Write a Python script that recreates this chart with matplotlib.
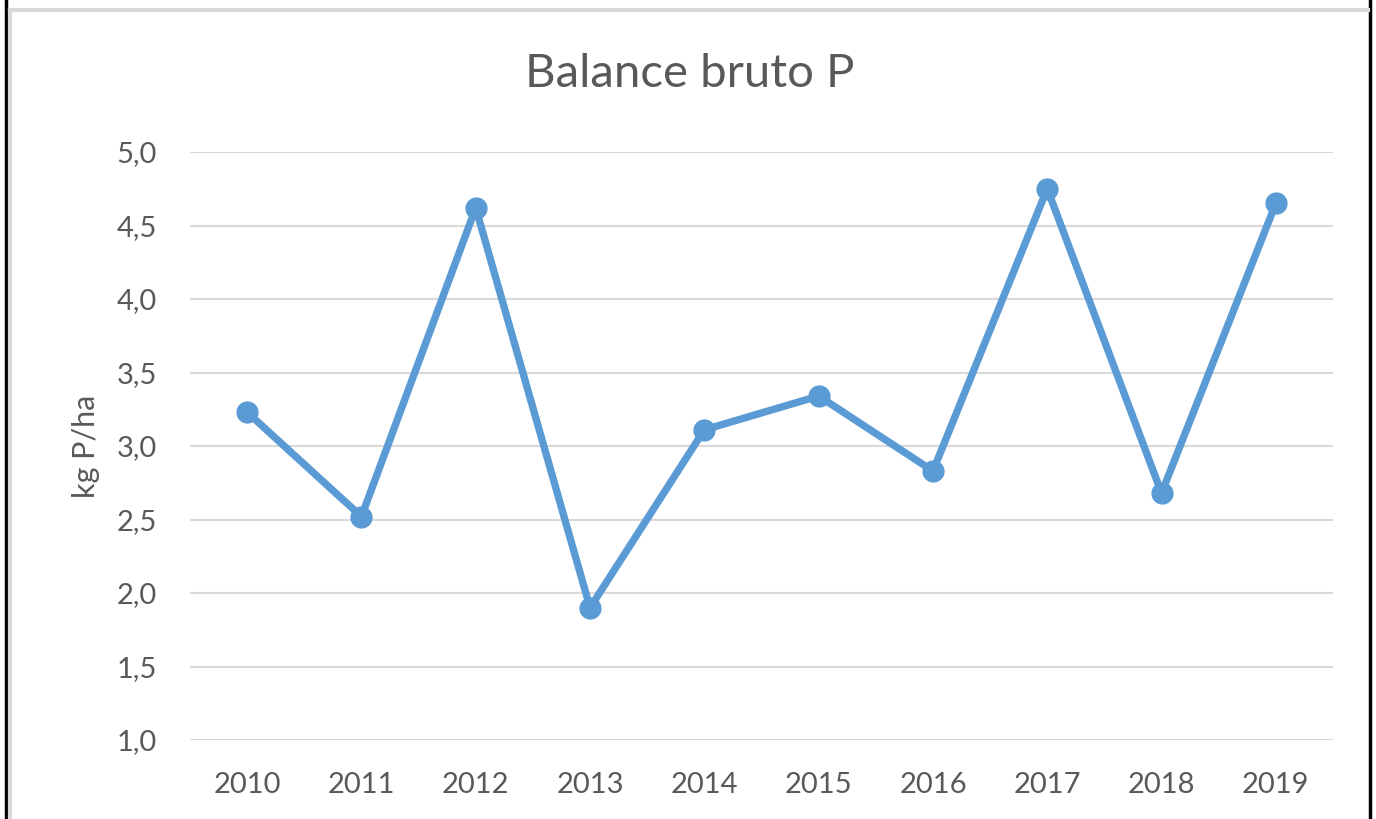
import matplotlib.pyplot as plt
from matplotlib.lines import Line2D
from matplotlib.ticker import FuncFormatter

years = ["2010", "2011", "2012", "2013", "2014", "2015", "2016", "2017", "2018", "2019"]
balance = [3.23, 2.52, 4.62, 1.90, 3.11, 3.34, 2.83, 4.75, 2.68, 4.65]

W, H = 1376, 819


def main():
    plt.rcParams["font.family"] = ["Lato", "DejaVu Sans"]
    fig = plt.figure(figsize=(W / 100, H / 100), dpi=100)
    ax = fig.add_axes([190 / W, 1 - 740 / H, (1333 - 190) / W, (740 - 152) / H])

    x = list(range(len(years)))
    ax.plot(x, balance, color="#5B9BD5", lw=5.3, marker="o", ms=15,
            solid_capstyle="round", solid_joinstyle="round", zorder=3)

    ax.set_xlim(-0.5, len(years) - 0.5)
    ax.set_ylim(1.0, 5.0)
    ax.set_yticks([1.0, 1.5, 2.0, 2.5, 3.0, 3.5, 4.0, 4.5, 5.0])
    ax.yaxis.set_major_formatter(FuncFormatter(lambda v, p: f"{v:.1f}".replace(".", ",")))
    ax.set_xticks(x)
    ax.set_xticklabels(years)

    ax.grid(axis="y", color="#D9D9D9", lw=1.5)
    ax.set_axisbelow(True)
    for s in ax.spines.values():
        s.set_visible(False)
    ax.tick_params(length=0, labelsize=21, colors="#595959")
    ax.tick_params(axis="x", pad=23)
    ax.tick_params(axis="y", pad=24)

    ax.set_ylabel("kg P/ha", fontsize=22, color="#595959", labelpad=12)
    fig.text(690 / W, 1 - 74 / H, "Balance bruto P", ha="center", va="center",
             fontsize=34, color="#595959")

    # outer frame of the screenshot
    fig.add_artist(Line2D([6 / W, 6 / W], [0, 1], color="black", lw=2.5))
    fig.add_artist(Line2D([1370 / W, 1370 / W], [0, 1], color="black", lw=2.5))
    fig.add_artist(Line2D([10 / W, 1368 / W], [1 - 10 / H, 1 - 10 / H], color="#D9D9D9", lw=3))
    fig.add_artist(Line2D([10 / W, 10 / W], [0, 1 - 10 / H], color="#D9D9D9", lw=3))

    fig.savefig("out.png", dpi=100)


if __name__ == "__main__":
    main()
